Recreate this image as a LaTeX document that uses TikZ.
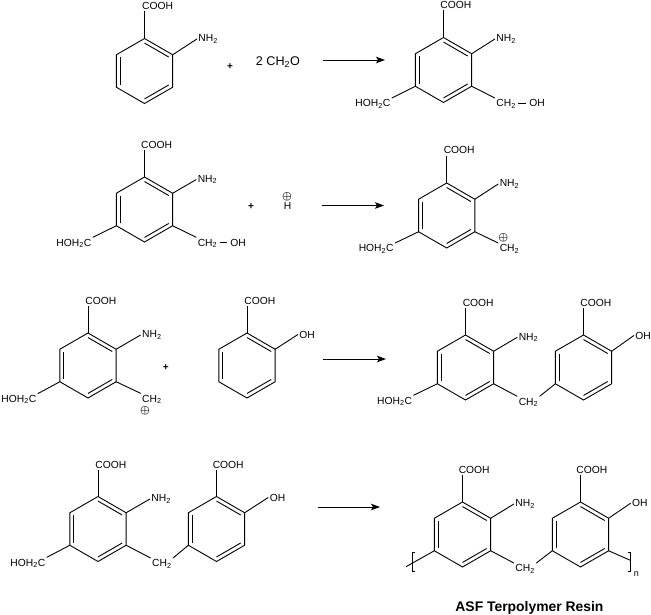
\documentclass[tikz,border=0pt]{standalone}
\usepackage{fontspec}
\setmainfont{Liberation Sans}
\usetikzlibrary{calc,arrows.meta}

\newcommand{\subtwo}{\textsubscript{2}}
\newcommand{\benzene}[3]{
	\coordinate (#1c) at (#2,#3);
	\foreach \i in {1,...,6} \coordinate (#1\i) at ($(#1c)+({-150+60*\i}:32.5)$);
	\draw (#11) -- (#12) -- (#13) -- (#14) -- (#15) -- (#16) -- cycle;
	\draw ($(#11)!.14!(#1c)$) -- ($(#12)!.14!(#1c)$);
	\draw ($(#13)!.14!(#1c)$) -- ($(#14)!.14!(#1c)$);
	\draw ($(#15)!.14!(#1c)$) -- ($(#16)!.14!(#1c)$);
}

\begin{document}
\begin{tikzpicture}[x=1pt, y=-1pt, line width=.9pt,
		main/.style = {anchor=base west, xshift=-1pt, inner sep=1pt, font=\fontsize{10.3}{12}\selectfont},
		plus/.style = {inner sep=0pt, font=\fontsize{10}{11}\selectfont\bfseries},
		charge/.style = {inner sep=0pt, font=\fontsize{11}{12}\selectfont\boldmath},
		link/.style = {shorten <=1pt, shorten >=2pt},
		reaction/.style = {-{Stealth[length=9pt,width=6.5pt,inset=2pt]}}]
	\useasboundingbox (0,0) rectangle (651,615);

	% first row
	\benzene{ra}{144.5}{71}
	\node[main] (coohA) at (141.7,9.5) {COOH};
	\node[main] (nhA) at (198,41.7) {NH\subtwo};
	\draw (ra1) -- (ra1 |- coohA.south);
	\draw (ra2) -- (nhA.west);
	\node[plus] (plusA) at (230,66.7) {+};
	\node[main, font=\fontsize{12.6}{14}\selectfont] (form) at (255.5,65.7) {2 CH\subtwo O};
	\coordinate (arrowAs) at (323,60);
	\coordinate (arrowAe) at (385,60);
	\draw[reaction] (arrowAs) -- (arrowAe);
	\benzene{rb}{443.5}{70}
	\node[main] (coohB) at (440,8.3) {COOH};
	\node[main] (nhB) at (496,41.7) {NH\subtwo};
	\node[main] (hohB) at (355,106.7) {HOH\subtwo C};
	\node[main] (chB) at (496,106.7) {CH\subtwo};
	\node[main] (ohB) at (529,106.7) {OH};
	\draw (rb1) -- (rb1 |- coohB.south);
	\draw (rb2) -- (nhB.west);
	\draw (rb5) -- (hohB.north east);
	\draw (rb3) -- (chB.north west);
	\draw[link] (chB.east |- ohB.west) -- (ohB.west);

	% second row
	\benzene{rc}{144.5}{209.5}
	\node[main] (coohC) at (140.7,148.3) {COOH};
	\node[main] (nhC) at (197.3,182.3) {NH\subtwo};
	\node[main] (hohC) at (56,246) {HOH\subtwo C};
	\node[main] (chC) at (197.3,246) {CH\subtwo};
	\node[main] (ohC) at (230,246) {OH};
	\draw (rc1) -- (rc1 |- coohC.south);
	\draw (rc2) -- (nhC.west);
	\draw (rc5) -- (hohC.north east);
	\draw (rc3) -- (chC.north west);
	\draw[link] (chC.east |- ohC.west) -- (ohC.west);
	\node[plus] (plusC) at (251,207) {+};
	\node[main] (proton) at (283.3,210) {H};
	\node[charge] (chargeC) at (287,197) {$\oplus$};
	\coordinate (arrowCs) at (322,205.5);
	\coordinate (arrowCe) at (384,205.5);
	\draw[reaction] (arrowCs) -- (arrowCe);
	\benzene{rd}{446.7}{215.5}
	\node[main] (coohD) at (443.3,154) {COOH};
	\node[main] (nhD) at (499.3,186.7) {NH\subtwo};
	\node[main] (hohD) at (358.3,251.7) {HOH\subtwo C};
	\node[main] (chD) at (499.3,251.7) {CH\subtwo};
	\node[charge] (chargeD) at (503.3,238) {$\oplus$};
	\draw (rd1) -- (rd1 |- coohD.south);
	\draw (rd2) -- (nhD.west);
	\draw (rd5) -- (hohD.north east);
	\draw (rd3) -- (chD.north west);

	% third row
	\benzene{re}{88}{365.5}
	\node[main] (coohE) at (85,304.3) {COOH};
	\node[main] (nhE) at (141.7,337.7) {NH\subtwo};
	\node[main] (hohE) at (1,402.3) {HOH\subtwo C};
	\node[main] (chE) at (141.7,402) {CH\subtwo};
	\node[charge] (chargeE) at (145,411) {$\oplus$};
	\draw (re1) -- (re1 |- coohE.south);
	\draw (re2) -- (nhE.west);
	\draw (re5) -- (hohE.north east);
	\draw (re3) -- (chE.north west);
	\node[plus] (plusE) at (165.7,367.7) {+};
	\benzene{rf}{247}{365.5}
	\node[main] (coohF) at (244,304.3) {COOH};
	\node[main] (ohF) at (299,338) {OH};
	\draw (rf1) -- (rf1 |- coohF.south);
	\draw (rf2) -- (ohF.west);
	\coordinate (arrowFs) at (323,359);
	\coordinate (arrowFe) at (386,359);
	\draw[reaction] (arrowFs) -- (arrowFe);
	\benzene{rg}{465.5}{367.5}
	\benzene{rh}{583.5}{367.5}
	\node[main] (coohG) at (462.3,306) {COOH};
	\node[main] (nhG) at (518.3,340) {NH\subtwo};
	\node[main] (hohG) at (376.7,404) {HOH\subtwo C};
	\node[main] (chG) at (518.3,405) {CH\subtwo};
	\node[main] (coohH) at (580,306) {COOH};
	\node[main] (ohH) at (635,339) {OH};
	\draw (rg1) -- (rg1 |- coohG.south);
	\draw (rg2) -- (nhG.west);
	\draw (rg5) -- (hohG.north east);
	\draw (rg3) -- (chG.north west);
	\draw (rh5) -- (chG.north east);
	\draw (rh1) -- (rh1 |- coohH.south);
	\draw (rh2) -- (ohH.west);

	% fourth row
	\benzene{ri}{98}{529}
	\benzene{rj}{216.5}{529}
	\node[main] (coohI) at (95,468.3) {COOH};
	\node[main] (nhI) at (151,501.7) {NH\subtwo};
	\node[main] (hohI) at (10,566) {HOH\subtwo C};
	\node[main] (chI) at (151.7,566.7) {CH\subtwo};
	\node[main] (coohJ) at (212.3,468.3) {COOH};
	\node[main] (ohJ) at (269.3,501) {OH};
	\draw (ri1) -- (ri1 |- coohI.south);
	\draw (ri2) -- (nhI.west);
	\draw (ri5) -- (hohI.north east);
	\draw (ri3) -- (chI.north west);
	\draw (rj5) -- (chI.north east);
	\draw (rj1) -- (rj1 |- coohJ.south);
	\draw (rj2) -- (ohJ.west);
	\coordinate (arrowJs) at (318,507);
	\coordinate (arrowJe) at (380,507);
	\draw[reaction] (arrowJs) -- (arrowJe);
	\benzene{rk}{462.5}{534.5}
	\benzene{rl}{580.5}{534.5}
	\node[main] (coohK) at (458.3,473.3) {COOH};
	\node[main] (nhK) at (515,506.7) {NH\subtwo};
	\node[main] (chK) at (515,571.7) {CH\subtwo};
	\node[main] (coohL) at (576,473.3) {COOH};
	\node[main] (ohL) at (631.7,506.7) {OH};
	\draw (rk1) -- (rk1 |- coohK.south);
	\draw (rk2) -- (nhK.west);
	\draw (rk3) -- (chK.north west);
	\draw (rl5) -- (chK.north east);
	\draw (rl1) -- (rl1 |- coohL.south);
	\draw (rl2) -- (ohL.west);
	% brackets of the repeating unit
	\coordinate (endK) at (406,566.7);
	\coordinate (endL) at (630.7,560.5);
	\coordinate (brackLt) at (412.7,552.7);
	\coordinate (brackLb) at (412.7,571.7);
	\coordinate (brackRt) at (630.7,552.7);
	\coordinate (brackRb) at (630.7,571.7);
	\draw (rk5) -- (endK);
	\draw (rl3) -- (endL);
	\draw ($(brackLt)+(2.5,0)$) -- (brackLt) -- (brackLb) -- ($(brackLb)+(2.5,0)$);
	\draw ($(brackRt)+(-2.5,0)$) -- (brackRt) -- (brackRb) -- ($(brackRb)+(-2.5,0)$);
	\node[main, font=\fontsize{9}{10}\selectfont] (nL) at (633.5,576) {n};
	\node[main, font=\fontsize{13.9}{15}\selectfont\bfseries] (title) at (455,611.7) {ASF Terpolymer Resin};
\end{tikzpicture}
\end{document}
